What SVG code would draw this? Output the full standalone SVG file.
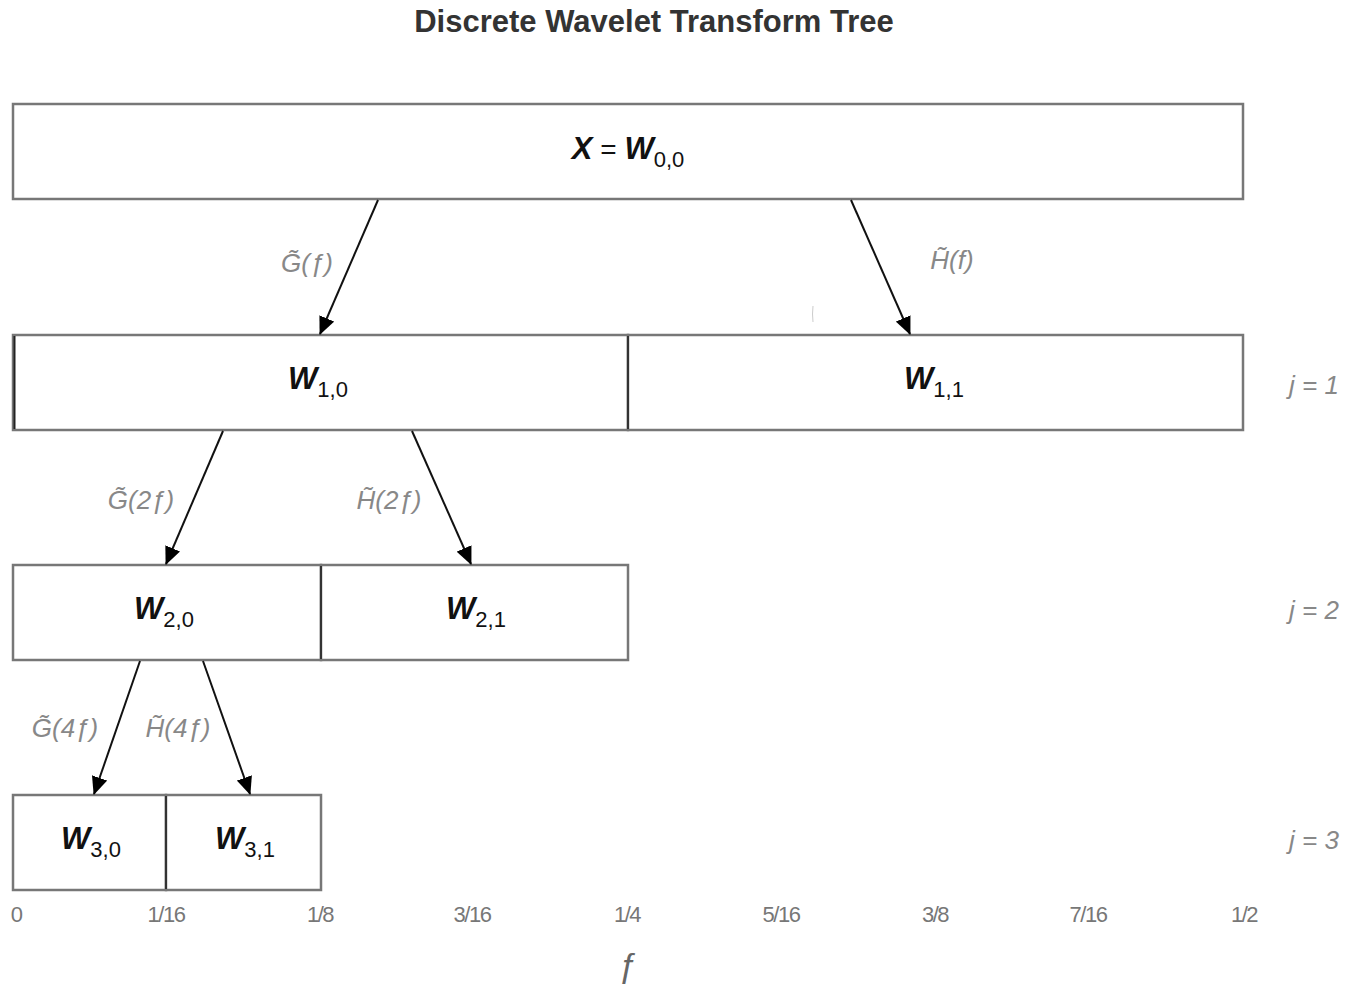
<svg xmlns="http://www.w3.org/2000/svg" width="1359" height="984" viewBox="0 0 1359 984">
<style>
.box{fill:#fff;stroke:#777;stroke-width:2.5}
.div{stroke:#333;stroke-width:2}
.lbl{font-family:"Liberation Sans",Arial,sans-serif;fill:#111;text-anchor:middle}
.w{font-weight:bold;font-style:italic;font-size:31px}
.sub{font-size:22px;font-weight:normal;font-style:normal}
.flt{font-family:"Liberation Sans",Arial,sans-serif;font-style:italic;font-size:26px;fill:#888;text-anchor:middle}
.tick{font-family:"Liberation Sans",Arial,sans-serif;font-size:22px;fill:#777;text-anchor:middle;letter-spacing:-1.5px}
.edge{stroke:#111;stroke-width:2;fill:none;marker-end:url(#ah)}
</style>
<defs>
<marker id="ah" viewBox="0 0 18 16" refX="17" refY="8" markerWidth="18" markerHeight="16" markerUnits="userSpaceOnUse" orient="auto">
<path d="M0,0 L18,8 L0,16 z" fill="#000"/>
</marker>
</defs>
<rect width="1359" height="984" fill="#fff"/>
<text x="654" y="32" font-family="Liberation Sans,Arial,sans-serif" font-weight="bold" font-size="31" fill="#333" text-anchor="middle">Discrete Wavelet Transform Tree</text>

<g id="node-w00">
<rect class="box" x="13" y="104" width="1230" height="95"/>
<text class="lbl" x="628" y="159"><tspan class="w">X</tspan><tspan font-size="28"> = </tspan><tspan class="w">W</tspan><tspan class="sub" dy="8">0,0</tspan></text>
</g>
<g id="node-w10">
<rect class="box" x="13" y="335" width="615" height="95"/>
<line x1="14.5" y1="336" x2="14.5" y2="429" stroke="#222" stroke-width="2"/>
<text class="lbl" x="318" y="389"><tspan class="w">W</tspan><tspan class="sub" dy="8">1,0</tspan></text>
</g>
<g id="node-w11">
<rect class="box" x="628" y="335" width="615" height="95"/>
<text class="lbl" x="934" y="389"><tspan class="w">W</tspan><tspan class="sub" dy="8">1,1</tspan></text>
</g>
<g id="node-w20">
<rect class="box" x="13" y="565" width="308" height="95"/>
<text class="lbl" x="164" y="619"><tspan class="w">W</tspan><tspan class="sub" dy="8">2,0</tspan></text>
</g>
<g id="node-w21">
<rect class="box" x="321" y="565" width="307" height="95"/>
<text class="lbl" x="476" y="619"><tspan class="w">W</tspan><tspan class="sub" dy="8">2,1</tspan></text>
</g>
<g id="node-w30">
<rect class="box" x="13" y="795" width="153" height="95"/>
<text class="lbl" x="91" y="849"><tspan class="w">W</tspan><tspan class="sub" dy="8">3,0</tspan></text>
</g>
<g id="node-w31">
<rect class="box" x="166" y="795" width="155" height="95"/>
<text class="lbl" x="245" y="849"><tspan class="w">W</tspan><tspan class="sub" dy="8">3,1</tspan></text>
</g>
<g id="dividers">
<line class="div" x1="628" y1="336" x2="628" y2="429"/>
<line class="div" x1="321" y1="566" x2="321" y2="659"/>
<line class="div" x1="166" y1="796" x2="166" y2="889"/>
</g>

<g id="connectors">
<line class="edge" x1="378" y1="200" x2="320" y2="334"/>
<line class="edge" x1="851" y1="200" x2="910" y2="334"/>
<line class="edge" x1="223" y1="431" x2="166" y2="564"/>
<line class="edge" x1="412" y1="431" x2="471" y2="564"/>
<line class="edge" x1="140" y1="661" x2="94" y2="794"/>
<line class="edge" x1="203" y1="661" x2="250" y2="794"/>
</g>
<g id="edge-labels">
<text class="flt" x="307" y="272">G̃(ƒ)</text>
<text class="flt" x="952" y="269">H̃(f)</text>
<text class="flt" x="141" y="509">G̃(2ƒ)</text>
<text class="flt" x="389" y="509">H̃(2ƒ)</text>
<text class="flt" x="65" y="737">G̃(4ƒ)</text>
<text class="flt" x="178" y="737">H̃(4ƒ)</text>
</g>
<path d="M813,306 Q812,314 813,322" stroke="#ccc" stroke-width="1" fill="none"/>

<g id="levels">
<text class="flt" x="1314" y="394" font-size="28">j = 1</text>
<text class="flt" x="1314" y="619" font-size="28">j = 2</text>
<text class="flt" x="1314" y="849" font-size="28">j = 3</text>
</g>
<g id="axis">
<text class="tick" x="16" y="922">0</text>
<text class="tick" x="166" y="922">1/16</text>
<text class="tick" x="320" y="922">1/8</text>
<text class="tick" x="472" y="922">3/16</text>
<text class="tick" x="627" y="922">1/4</text>
<text class="tick" x="781" y="922">5/16</text>
<text class="tick" x="935" y="922">3/8</text>
<text class="tick" x="1088" y="922">7/16</text>
<text class="tick" x="1244" y="922">1/2</text>
<text x="627" y="976" font-family="Liberation Sans,Arial,sans-serif" font-style="italic" font-size="34" fill="#666" text-anchor="middle">ƒ</text>
</g>
</svg>
